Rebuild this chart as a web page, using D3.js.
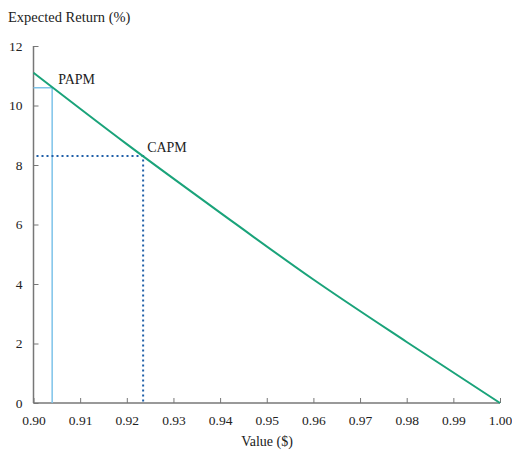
<!DOCTYPE html>
<html><head><meta charset="utf-8">
<script src="https://cdn.jsdelivr.net/npm/d3@7"></script>
<style>body{margin:0;background:#fff}svg{display:block}text{font-family:"Liberation Serif","DejaVu Serif",serif;fill:#222}</style>
</head><body>
<svg id="c" width="512" height="453"></svg>
<script>
const xTicks = [0.90,0.91,0.92,0.93,0.94,0.95,0.96,0.97,0.98,0.99,1.00];
const yTicks = [0,2,4,6,8,10,12];
const curveValue = [0.90,0.92,0.94,0.96,0.98,1.00];
const curveReturn = [11.1,8.7,6.4,4.15,2.05,0];
const markerNames = ["PAPM","CAPM"];
const markerValue = [0.904,0.9235];
const markerReturn = [10.6,8.3];

const svg = d3.select("#c");
const x = d3.scaleLinear().domain([0.90,1.00]).range([33.5,500]);
const y = d3.scaleLinear().domain([0,12]).range([403,46]);
const axisColor = "#777";

// axes
const gx = svg.append("g").attr("transform","translate(0,403)")
  .call(d3.axisBottom(x).tickValues(xTicks).tickFormat(d3.format(".2f")).tickSize(-5).tickPadding(12));
const gy = svg.append("g").attr("transform","translate(33.5,0)")
  .call(d3.axisLeft(y).tickValues(yTicks).tickSize(-5).tickPadding(11));
[gx,gy].forEach(g=>{
  g.select(".domain").attr("stroke",axisColor).attr("stroke-width",1.5);
  g.selectAll(".tick line").attr("stroke",axisColor);
  g.selectAll(".tick text").attr("font-size",13.5).attr("fill","#222").attr("font-family",'"Liberation Serif","DejaVu Serif",serif');
});
gx.select(".domain").attr("d",`M${x.range()[0]},0H${x.range()[1]}`);
gy.select(".domain").attr("d",`M0,${y.range()[0]}V${y.range()[1]}`);

// marker guide lines
svg.append("path").attr("fill","none").attr("stroke","#7ec3ea").attr("stroke-width",1.5)
  .attr("d",`M${x(0.90)},${y(markerReturn[0])}H${x(markerValue[0])}V${y(0)}`);
svg.append("path").attr("fill","none").attr("stroke","#1f5fa8").attr("stroke-width",2)
  .attr("stroke-dasharray","2,3")
  .attr("d",`M${x(0.90)+3},${y(markerReturn[1])}H${x(markerValue[1])}V${y(0)}`);

// curve
const pts = curveValue.map((v,i)=>[v,curveReturn[i]]);
svg.append("path").datum(pts).attr("fill","none").attr("stroke","#1aa37a").attr("stroke-width",2)
  .attr("d",d3.line().x(d=>x(d[0])).y(d=>y(d[1])).curve(d3.curveMonotoneX));

// labels
svg.append("text").attr("x",x(markerValue[0])+6).attr("y",y(markerReturn[0])-4).attr("font-size",14).text(markerNames[0]);
svg.append("text").attr("x",x(markerValue[1])+4).attr("y",y(markerReturn[1])-4).attr("font-size",14).text(markerNames[1]);
svg.append("text").attr("x",8).attr("y",22).attr("font-size",14.5).text("Expected Return (%)");
svg.append("text").attr("x",267).attr("y",446).attr("font-size",14).attr("text-anchor","middle").text("Value ($)");
</script>
</body></html>
